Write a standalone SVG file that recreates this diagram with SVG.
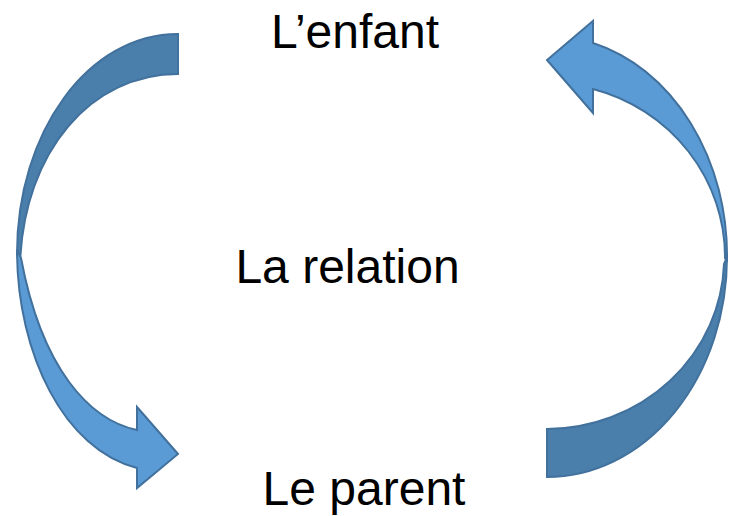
<svg xmlns="http://www.w3.org/2000/svg" width="729" height="516" viewBox="0 0 729 516">
  <style>
    .lbl { font-family: "Liberation Sans", Arial, sans-serif; font-size: 48px; fill: #000000; text-anchor: middle; }
    .front { fill: #5B9BD5; stroke: #41719C; stroke-width: 2; stroke-linejoin: miter; }
    .back { fill: #4A7EAB; stroke: #41719C; stroke-width: 2; stroke-linejoin: miter; }
  </style>
  <rect width="729" height="516" fill="#FFFFFF"/>
  <g id="connectors">
    <g id="arrow-left">
      <path class="back" d="M178,34 C88,34 17,132 17,254 L20,264 C24,150 92,74 178,74 Z"/>
      <path class="front" d="M17,250 C17,355 65,450 137,468 L137,488 L178,454 L137,407 L137,430 C90,420 42,370 21,258 Z"/>
    </g>
    <g id="arrow-right">
      <path class="back" d="M727,257 A180,220 0 0 1 547,477 L547,429 A178,171 0 0 0 724,264 Z"/>
      <path class="front" d="M593,43 A180,220 0 0 1 727,260 L725,258 A178,174 0 0 0 593,89 L593,113 L547,60 L593,21 Z"/>
    </g>
  </g>
  <g id="node-enfant">
    <text class="lbl" x="355" y="48">L’enfant</text>
  </g>
  <g id="node-relation">
    <text class="lbl" x="347.5" y="283">La relation</text>
  </g>
  <g id="node-parent">
    <text class="lbl" x="364" y="505">Le parent</text>
  </g>
</svg>
